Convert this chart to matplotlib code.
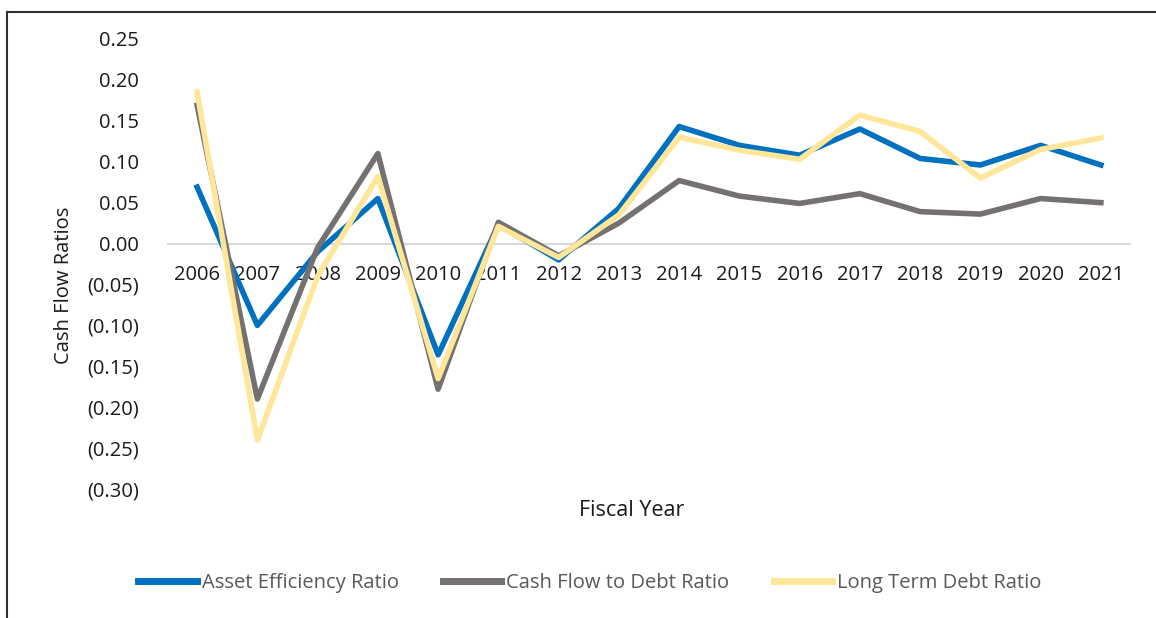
import matplotlib.pyplot as plt
from matplotlib.lines import Line2D

years = [str(y) for y in range(2006, 2022)]
asset_eff = [0.069, -0.100, -0.010, 0.055, -0.136, 0.023, -0.020, 0.043,
             0.143, 0.120, 0.108, 0.140, 0.104, 0.096, 0.120, 0.096]
cf_to_debt = [0.169, -0.190, -0.005, 0.110, -0.178, 0.026, -0.015, 0.025,
              0.077, 0.058, 0.049, 0.061, 0.039, 0.036, 0.055, 0.050]
lt_debt = [0.185, -0.240, -0.040, 0.082, -0.165, 0.021, -0.017, 0.035,
           0.130, 0.114, 0.103, 0.157, 0.137, 0.080, 0.115, 0.129]
yticks = [0.25, 0.20, 0.15, 0.10, 0.05, 0.0, -0.05, -0.10, -0.15, -0.20, -0.25, -0.30]

plt.rcParams['font.family'] = ['Open Sans', 'DejaVu Sans']

W, H = 1156, 618
fig = plt.figure(figsize=(W / 100, H / 100), dpi=100)
ax = fig.add_axes([167 / W, 1 - 489 / H, (1131 - 167) / W, (489 - 39) / H])

x = list(range(len(years)))
ax.axhline(0, color='#D9D9D9', lw=1.5, zorder=1)
ax.plot(x, asset_eff, color='#0070C0', lw=4, label='Asset Efficiency Ratio', zorder=3)
ax.plot(x, cf_to_debt, color='#767171', lw=4, label='Cash Flow to Debt Ratio', zorder=4)
ax.plot(x, lt_debt, color='#FFE699', lw=4, label='Long Term Debt Ratio', zorder=5)

ax.set_xlim(-0.5, len(years) - 0.5)
ax.set_ylim(-0.30, 0.25)
for s in ax.spines.values():
    s.set_visible(False)

ax.set_xticks([])
# year labels sit right under the zero line
for i, yr in enumerate(years):
    ax.annotate(yr, (i, 0), xytext=(0, -22.5), textcoords='offset points',
                ha='center', va='center', fontsize=14.5, color='#1a1a1a', zorder=2)

ax.set_yticks(yticks)
ax.set_yticklabels([f'{v:.2f}' if v >= 0 else f'({-v:.2f})' for v in yticks],
                   fontsize=14.5, color='#1a1a1a')
ax.tick_params(axis='y', length=0, pad=20)

ax.set_ylabel('Cash Flow Ratios', fontsize=14.5, color='#1a1a1a')
ax.yaxis.set_label_coords(-93 / 964, (489 - 285) / 450)
fig.text(632 / W, 1 - 510 / H, 'Fiscal Year', ha='center', va='center',
         fontsize=15.5, color='#1a1a1a')

leg = fig.legend(loc='center', bbox_to_anchor=(590 / W, 1 - 583 / H), ncol=3,
                 frameon=False, fontsize=14.5, handlelength=2.9, handletextpad=0.25,
                 columnspacing=2.2, labelcolor='#595959')
for h in leg.get_lines():
    h.set_linewidth(5)

# frame edges along the top and left of the figure
fig.add_artist(Line2D([7 / W, 1], [1 - 12 / H, 1 - 12 / H], color='#303030', lw=1.5))
fig.add_artist(Line2D([7 / W, 7 / W], [0, 1 - 12 / H], color='#303030', lw=1.5))

fig.savefig('out.png', dpi=100)
